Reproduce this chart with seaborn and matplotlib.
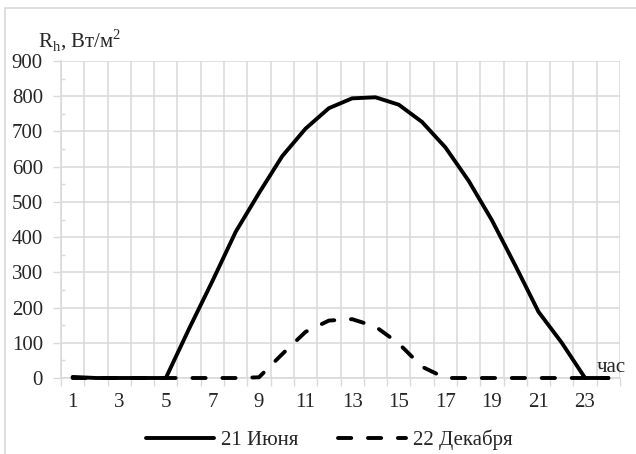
import numpy as np
import pandas as pd
import seaborn as sns
import matplotlib.pyplot as plt
from matplotlib.patches import Rectangle

# --- data ---
hours = list(range(1, 25))
june = [3, 0, 0, 0, 0, 140, 275, 415, 525, 630, 708, 766, 794, 797, 776, 727,
        655, 560, 448, 320, 188, 100, 0, 0]
december = [0, 0, 0, 0, 0, 0, 0, 0, 2, 68, 131, 163, 167, 146, 98, 32,
            0, 0, 0, 0, 0, 0, 0, 0]
series_names = ['21 Июня', '22 Декабря']
x_labels = [str(h) for h in range(1, 25, 2)]

df = pd.DataFrame({
    'hour': hours * 2,
    'value': june + december,
    'series': [series_names[0]] * 24 + [series_names[1]] * 24,
})

sns.set_style('white')
plt.rcParams['font.family'] = ['Liberation Serif', 'DejaVu Serif']
plt.rcParams['mathtext.fontset'] = 'custom'
plt.rcParams['mathtext.rm'] = 'Liberation Serif'
plt.rcParams['lines.dash_capstyle'] = 'round'
plt.rcParams['lines.solid_capstyle'] = 'round'

grid_c = '#d9d9d9'
text_c = '#262626'
fs = 15

fig = plt.figure(figsize=(6.36, 4.54), dpi=100)
ax = fig.add_axes([61 / 636, 1 - 378 / 454, (620 - 61) / 636, (378 - 61) / 454])

# chart area border
fig.patches.append(Rectangle((5 / 636, -0.05), 1.2, 1 - 8 / 454 + 0.05,
                             transform=fig.transFigure, fill=False,
                             edgecolor=grid_c, linewidth=1.2, zorder=0))

sns.lineplot(data=df, x='hour', y='value', hue='series', style='series',
             palette={series_names[0]: 'black', series_names[1]: 'black'},
             dashes={series_names[0]: '', series_names[1]: (3.4, 4.3)},
             linewidth=2.8, ax=ax)
for ln in ax.lines:
    ln.set_clip_on(False)
    ln.set_zorder(4)

ax.set_xlim(0.5, 24.5)
ax.set_ylim(0, 900)

# category boundaries as major ticks / grid, odd hours as labelled minor ticks
ax.set_xticks(np.arange(0.5, 25, 1))
ax.set_xticklabels([])
ax.set_xticks(range(1, 25, 2), minor=True)
ax.set_xticklabels(x_labels, minor=True)
ax.tick_params(axis='x', which='major', length=5.5, width=1, color=grid_c,
               direction='out', bottom=True)
ax.tick_params(axis='x', which='minor', length=0, pad=11, labelsize=fs,
               labelcolor=text_c)

ax.set_yticks(range(0, 901, 100))
ax.set_yticks(range(50, 900, 100), minor=True)
ax.tick_params(axis='y', which='major', length=6, width=1, color=grid_c,
               direction='out', left=True, pad=7, labelsize=fs,
               labelcolor=text_c)
ax.tick_params(axis='y', which='minor', length=3, width=1, color=grid_c,
               direction='in', left=True)

ax.grid(True, which='major', color=grid_c, linewidth=1.1)
ax.set_axisbelow(True)
for s in ['top', 'right']:
    ax.spines[s].set_visible(False)
for s in ['left', 'bottom']:
    ax.spines[s].set_color(grid_c)
    ax.spines[s].set_linewidth(1.1)

ax.set_xlabel('')
ax.set_ylabel('')

handles, labels = ax.get_legend_handles_labels()
ax.legend(handles, labels, loc='center', bbox_to_anchor=(329 / 636, 1 - 440 / 454),
          bbox_transform=fig.transFigure, ncol=2, frameon=False, fontsize=fs,
          handlelength=3.3, handletextpad=0.3, columnspacing=1.9,
          labelcolor=text_c)

fig.text(38 / 636, 1 - 47 / 454, r'R$_\mathregular{h}$, Вт/м$^\mathregular{2}$',
         fontsize=fs, color=text_c, va='baseline', ha='left')
fig.text(597 / 636, 1 - 372 / 454, 'час', fontsize=fs, color=text_c,
         va='baseline', ha='left')

fig.savefig('out.png', dpi=100)
